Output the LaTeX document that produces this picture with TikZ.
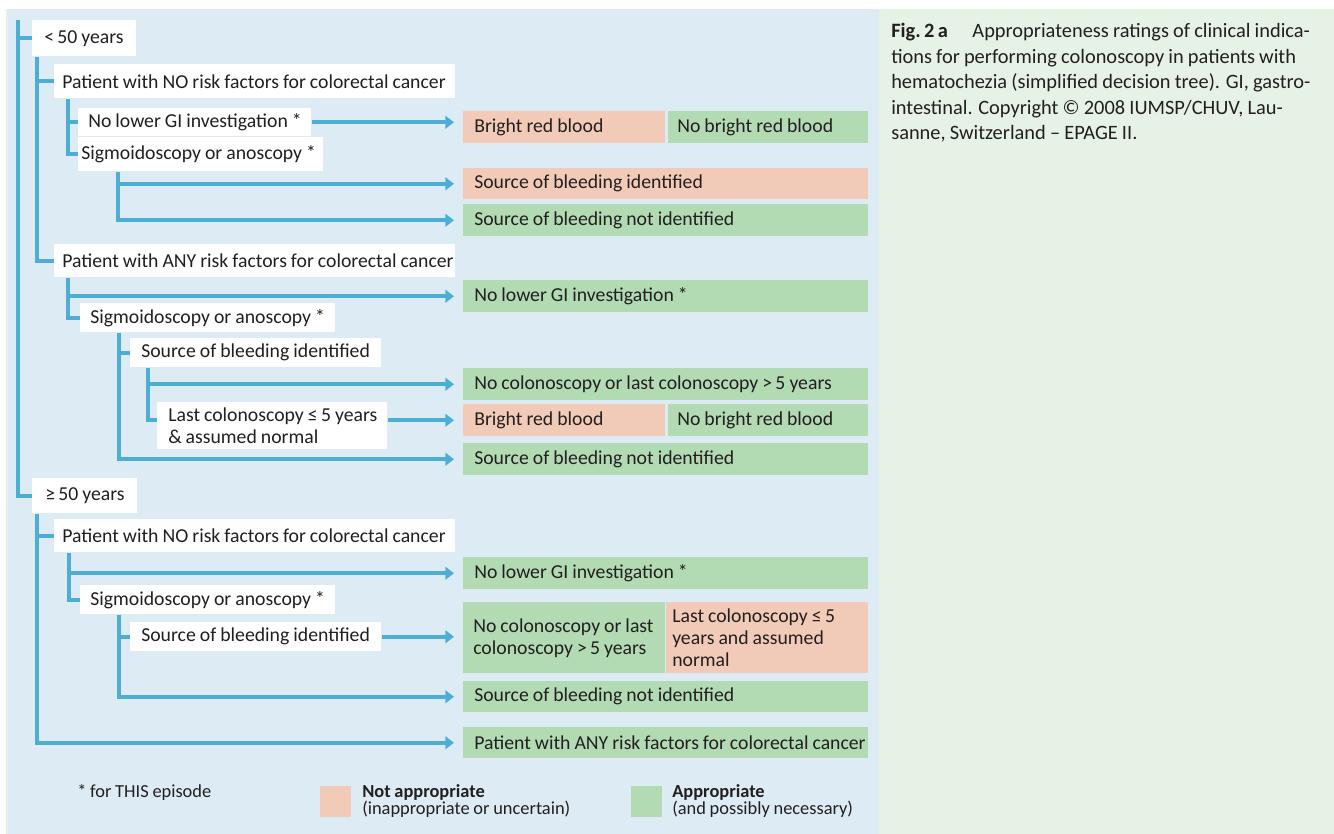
\documentclass[tikz,border=0pt]{standalone}
\usepackage{fontspec}
\setmainfont{Carlito}[WordSpace=0.9]
\usetikzlibrary{arrows.meta}
\definecolor{panelblue}{HTML}{DCEBF4}
\definecolor{panelgreen}{HTML}{E7F2E6}
\definecolor{salmon}{HTML}{F2CBB8}
\definecolor{okgreen}{HTML}{B2DBB4}
\definecolor{lineblue}{HTML}{4DAED5}
\definecolor{ink}{HTML}{231F20}
\newcommand\treefont{\fontsize{14.8}{16.5}\selectfont}
\newcommand\capfont{\fontsize{15.3}{18}\selectfont}
\newcommand\legfont{\fontsize{13.8}{15}\selectfont}
% #1 style, #2 name, #3 x1, #4 y1, #5 x2, #6 y2, #7 left pad (px), #8 text
\newcommand\mkbox[8]{%
  \pgfmathsetmacro\bxw{(#5-#3)*0.75}%
  \pgfmathsetmacro\bxh{(#6-#4)*0.75}%
  \pgfmathsetmacro\bxt{(#5-#3-2)*0.75}%
  \pgfmathsetmacro\bxp{(#7-1)*0.75}%
  \node[#1, anchor=north west, inner xsep=0pt, inner ysep=0pt,
        minimum width=\bxw pt, minimum height=\bxh pt,
        text width=\bxt pt, align=left] (#2) at (#3,#4)
        {\leftskip=\bxp pt\relax\spaceskip=0pt\relax\xspaceskip=0pt\relax #8\par};}
\begin{document}
\begin{tikzpicture}[x=0.75pt,y=-0.75pt,
  wb/.style={fill=white, text=ink, font=\treefont},
  nb/.style={fill=salmon, text=ink, font=\treefont},
  gb/.style={fill=okgreen, text=ink, font=\treefont},
  ln/.style={draw=lineblue, line width=3.2pt},
  arr/.style={ln, -{Triangle[length=6.5pt,width=9.5pt]}, shorten >=6.75pt},
  captext/.style={text=ink, font=\capfont, inner sep=0pt, anchor=base west},
  legtext/.style={text=ink, font=\legfont, inner sep=0pt, anchor=base west},
  legsq/.style={inner sep=0pt, minimum size=23.25pt, anchor=north west}]
\useasboundingbox (0,0) rectangle (1334,834);
\fill[white] (0,0) rectangle (1334,834);
\fill[panelgreen] (6,9) rectangle (1334,834);
\fill[panelblue] (8,9) rectangle (879,834);

% ---------- decision boxes ----------
\mkbox{wb}{lt50}{32}{20}{136}{56}{12}{<\,50 years}
\mkbox{wb}{no1}{54}{64}{455}{98}{8}{\mbox{Patient with NO risk factors for colorectal cancer}}
\mkbox{wb}{nolgi1}{78}{108}{311}{136}{10}{No lower GI investigation *}
\mkbox{wb}{sig1}{78}{137}{323}{171}{3}{Sigmoidoscopy or anoscopy *}
\mkbox{wb}{any1}{54}{244}{455}{277}{8}{\mbox{Patient with ANY risk factors for colorectal cancer}}
\mkbox{wb}{sig2}{80}{303}{335}{332}{10}{Sigmoidoscopy or anoscopy *}
\mkbox{wb}{src2}{130}{338}{381}{367}{11}{Source of bleeding identified}
\mkbox{wb}{last2}{157}{402}{387}{449}{11}{Last colonoscopy ≤\,5 years\\\& assumed normal}
\mkbox{wb}{ge50}{32}{478}{137}{513}{13}{≥\,50 years}
\mkbox{wb}{no3}{54}{519}{455}{552}{8}{\mbox{Patient with NO risk factors for colorectal cancer}}
\mkbox{wb}{sig3}{80}{585}{335}{614}{10}{Sigmoidoscopy or anoscopy *}
\mkbox{wb}{src3}{130}{622}{381}{651}{11}{Source of bleeding identified}

% ---------- outcome boxes ----------
\mkbox{nb}{o1a}{463}{111}{665}{143}{11}{Bright red blood}
\mkbox{gb}{o1b}{668}{111}{868}{143}{9}{No bright red blood}
\mkbox{nb}{o2}{463}{168}{868}{199}{11}{Source of bleeding identified}
\mkbox{gb}{o3}{463}{204}{868}{236}{11}{Source of bleeding not identified}
\mkbox{gb}{o4}{463}{280}{868}{312}{11}{No lower GI investigation *}
\mkbox{gb}{o5}{463}{368}{868}{400}{11}{No colonoscopy or last colonoscopy >\,5 years}
\mkbox{nb}{o6a}{463}{404}{665}{436}{11}{Bright red blood}
\mkbox{gb}{o6b}{668}{404}{868}{436}{9}{No bright red blood}
\mkbox{gb}{o7}{463}{443}{868}{475}{11}{Source of bleeding not identified}
\mkbox{gb}{o8}{463}{557}{868}{589}{11}{No lower GI investigation *}
\mkbox{gb}{o9a}{463}{602}{665}{673}{10}{No colonoscopy or last\\colonoscopy >\,5 years}
\mkbox{nb}{o9b}{666}{602}{868}{673}{6}{Last colonoscopy ≤\,5\\years and assumed\\normal}
\mkbox{gb}{o10}{463}{681}{868}{712}{11}{Source of bleeding not identified}
\mkbox{gb}{o11}{463}{727}{868}{758}{11}{\mbox{Patient with ANY risk factors for colorectal cancer}}

% ---------- connectors ----------
\coordinate (top0) at (18,20);
\draw[ln] (top0) |- (ge50.west);
\draw[ln] (top0 |- lt50.west) -- (lt50.west);

\coordinate (v1a) at ([xshift=3.75pt]lt50.south west);
\draw[ln] (v1a) |- (any1.west);
\draw[ln] (v1a |- no1.west) -- (no1.west);

\coordinate (v2a) at ([xshift=10.5pt]no1.south west);
\draw[ln] (v2a) |- (sig1.west);
\draw[ln] (v2a |- nolgi1.west) -- (nolgi1.west);
\draw[arr] (nolgi1.east) -- (nolgi1.east -| o1a.west);

\coordinate (v3a) at ([xshift=30pt]sig1.south west);
\draw[arr] (v3a) |- (o3.west);
\draw[arr] (v3a |- o2.west) -- (o2.west);

\coordinate (v2b) at ([xshift=10.5pt]any1.south west);
\draw[ln] (v2b) |- (sig2.west);
\draw[arr] (v2b |- o4.west) -- (o4.west);

\coordinate (v3b) at ([xshift=29.25pt]sig2.south west);
\draw[arr] (v3b) |- (o7.west);
\draw[ln] (v3b |- src2.west) -- (src2.west);

\coordinate (v4b) at ([xshift=13.5pt]src2.south west);
\draw[ln] (v4b) |- (last2.west |- o6a.west);
\draw[arr] (v4b |- o5.west) -- (o5.west);
\draw[arr] (last2.east |- o6a.west) -- (o6a.west);

\coordinate (v1c) at ([xshift=3.75pt]ge50.south west);
\draw[arr] (v1c) |- (o11.west);
\draw[ln] (v1c |- no3.west) -- (no3.west);

\coordinate (v2c) at ([xshift=11.25pt]no3.south west);
\draw[ln] (v2c) |- (sig3.west);
\draw[arr] (v2c |- o8.west) -- (o8.west);

\coordinate (v3c) at ([xshift=29.25pt]sig3.south west);
\draw[arr] (v3c) |- (o10.west);
\draw[ln] (v3c |- src3.west) -- (src3.west);
\draw[arr] (src3.east) -- (src3.east -| o9a.west);

% ---------- legend ----------
\node[legtext] (foot) at (77,797) {* for THIS episode};
\node[legsq, fill=salmon] (sq1) at (320,786) {};
\node[legtext] (l1a) at (362,797) {\textbf{Not appropriate}};
\node[legtext] (l1b) at (362,814) {(inappropriate or uncertain)};
\node[legsq, fill=okgreen] (sq2) at (631,786) {};
\node[legtext] (l2a) at (672,797) {\textbf{Appropriate}};
\node[legtext] (l2b) at (672,814) {(and possibly necessary)};

% ---------- caption ----------
\node[captext] (c1) at (891,38) {\textbf{Fig.\,2\,a}\hspace{1.2em}Appropriateness ratings of clinical indica-};
\node[captext] (c2) at (891,63.5) {tions for performing colonoscopy in patients with};
\node[captext] (c3) at (891,89) {hematochezia (simplified decision tree). GI, gastro-};
\node[captext] (c4) at (891,114.5) {intestinal. Copyright © 2008 IUMSP/CHUV, Lau-};
\node[captext] (c5) at (891,140) {sanne, Switzerland – EPAGE II.};
\end{tikzpicture}
\end{document}
